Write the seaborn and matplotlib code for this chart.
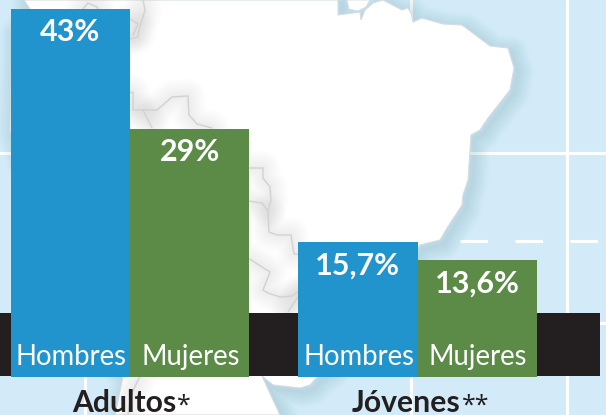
import pandas as pd
import matplotlib.pyplot as plt
import matplotlib.patches as mpatches
import seaborn as sns

grupos = ["Adultos", "Jóvenes"]
notas = ["*", "**"]
sexos = ["Hombres", "Mujeres"]
hombres = [43, 15.7]
mujeres = [29, 13.6]

AZUL = "#2193cd"
VERDE = "#5c8a47"
NEGRO = "#231f20"
MAR = "#d3ebf8"

W, H = 606, 415

# map outline in pixels, only decoration behind the bars
costa = [(24, 0), (30, 9), (12, 30), (10, 130), (60, 300), (123, 376), (115, 415), (280, 415), (273, 400),
         (262, 376), (273, 385), (300, 388), (310, 385), (318, 376), (330, 368), (420, 245), (440, 240),
         (447, 228), (462, 205), (463, 195), (468, 180), (469, 165), (471, 135), (480, 130), (488, 118),
         (510, 90), (514, 68), (508, 48), (490, 46), (462, 25), (443, 24), (422, 18), (413, 22), (411, 13),
         (408, 8), (402, 10), (383, 0), (373, 3), (365, 10), (361, 20), (360, 12), (338, 15), (338, 0)]
isla = [(347, 0), (349, 9), (358, 11), (366, 7), (370, 0)]
fronteras = [
    [(83, 9), (88, 3), (97, 7), (100, 14), (97, 20)],
    [(143, 0), (145, 10), (139, 30), (138, 37), (130, 39)],
    [(130, 19), (138, 24), (133, 35)],
    [(130, 93), (133, 92), (133, 110), (157, 110), (172, 97), (188, 96), (189, 115), (197, 124), (212, 128)],
    [(143, 110), (152, 128)],
    [(248, 168), (263, 168), (263, 178), (270, 187), (271, 200), (268, 211), (262, 203), (248, 201)],
    [(268, 211), (269, 232), (277, 235), (291, 235), (294, 254), (299, 254)],
    [(248, 258), (270, 272), (263, 290), (268, 293), (280, 297), (292, 296), (299, 291)],
    [(299, 295), (288, 312)],
    [(140, 376), (131, 395), (128, 415)],
]

df = pd.DataFrame({
    "grupo": grupos * 2,
    "sexo": [sexos[0]] * 2 + [sexos[1]] * 2,
    "valor": hombres + mujeres,
})

sns.set_theme(style="white")
plt.rcParams["font.family"] = ["Lato", "DejaVu Sans"]

fig = plt.figure(figsize=(W / 100, H / 100), dpi=100)

# background map
bg = fig.add_axes([0, 0, 1, 1], zorder=0)
bg.set_xlim(0, W)
bg.set_ylim(H, 0)
bg.axis("off")
bg.add_patch(mpatches.Rectangle((0, 0), W, H, color=MAR, zorder=0))

for x in [85, 411, 567]:
    bg.plot([x, x], [0, H], color="white", lw=2.2, zorder=1)
for y in [153, 323]:
    bg.plot([0, W], [y, y], color="white", lw=2.2, zorder=1)
bg.plot([460, W], [241, 241], color="white", lw=2.2, zorder=1, dashes=(9, 9))

# soft shadow, falls a little to the lower right
xs = [p[0] + 4 for p in costa]
ys = [p[1] + 4 for p in costa]
for lw in range(2, 34, 3):
    bg.plot(xs, ys, color="#5f93b0", lw=lw * 0.72, alpha=0.02, zorder=2, solid_joinstyle="round")
tierra = mpatches.Polygon(costa, closed=True, facecolor="white", edgecolor="#d5dde2", lw=0.8, zorder=3)
bg.add_patch(tierra)
bg.add_patch(mpatches.Polygon(isla, closed=True, facecolor="white", edgecolor="#d5dde2", lw=0.6, zorder=3))

for linea in fronteras:
    fx, fy = zip(*linea)
    for lw in range(3, 39, 4):
        sombra, = bg.plot(fx, fy, color="#909090", lw=lw * 0.72, alpha=0.012, zorder=4)
        sombra.set_clip_path(tierra)
    borde, = bg.plot(fx, fy, color="#d2d2d2", lw=1.0, zorder=5)
    borde.set_clip_path(tierra)

bg.add_patch(mpatches.Rectangle((0, 313), 600, 63, color=NEGRO, lw=0, zorder=6))

# bars
ax = fig.add_axes([0, (H - 376.7) / H, 1, (376.7 - 9) / H], zorder=1)
ax.patch.set_alpha(0)
sns.barplot(data=df, x="grupo", y="valor", hue="sexo", order=grupos, hue_order=sexos,
            palette={sexos[0]: AZUL, sexos[1]: VERDE}, width=0.83, saturation=1,
            linewidth=0, legend=False, ax=ax)
ax.set_xlim(-130 / 287.5, (W - 130) / 287.5)
ax.set_ylim(0, 43)
ax.set_xlabel("")
ax.set_ylabel("")
ax.set_xticks([])
ax.set_yticks([])
sns.despine(ax=ax, left=True, bottom=True)

for cont, vals, sexo in zip(ax.containers, [hombres, mujeres], sexos):
    etiquetas = [f"{v:g}".replace(".", ",") + "%" for v in vals]
    ax.bar_label(cont, labels=etiquetas, padding=-26.5, color="white", fontsize=22, fontweight="bold")
    for barra in cont:
        ax.annotate(sexo, (barra.get_x() + barra.get_width() / 2, 0), xytext=(0.5, 5),
                    textcoords="offset points", ha="center", va="bottom", color="white", fontsize=19.8)

desvio = [-4, -8]
for i, (grupo, nota) in enumerate(zip(grupos, notas)):
    t = ax.annotate(grupo, (i, 0), xytext=(desvio[i], -25.5), textcoords="offset points", ha="center",
                    va="baseline", color=NEGRO, fontsize=21.7, fontweight="bold", annotation_clip=False)
    ax.annotate(nota, xy=(1, 0), xycoords=t, xytext=(0.5, -1), textcoords="offset points", ha="left",
                va="bottom", color=NEGRO, fontsize=18, family="Open Sans", annotation_clip=False)

fig.savefig("out.png", dpi=100)
